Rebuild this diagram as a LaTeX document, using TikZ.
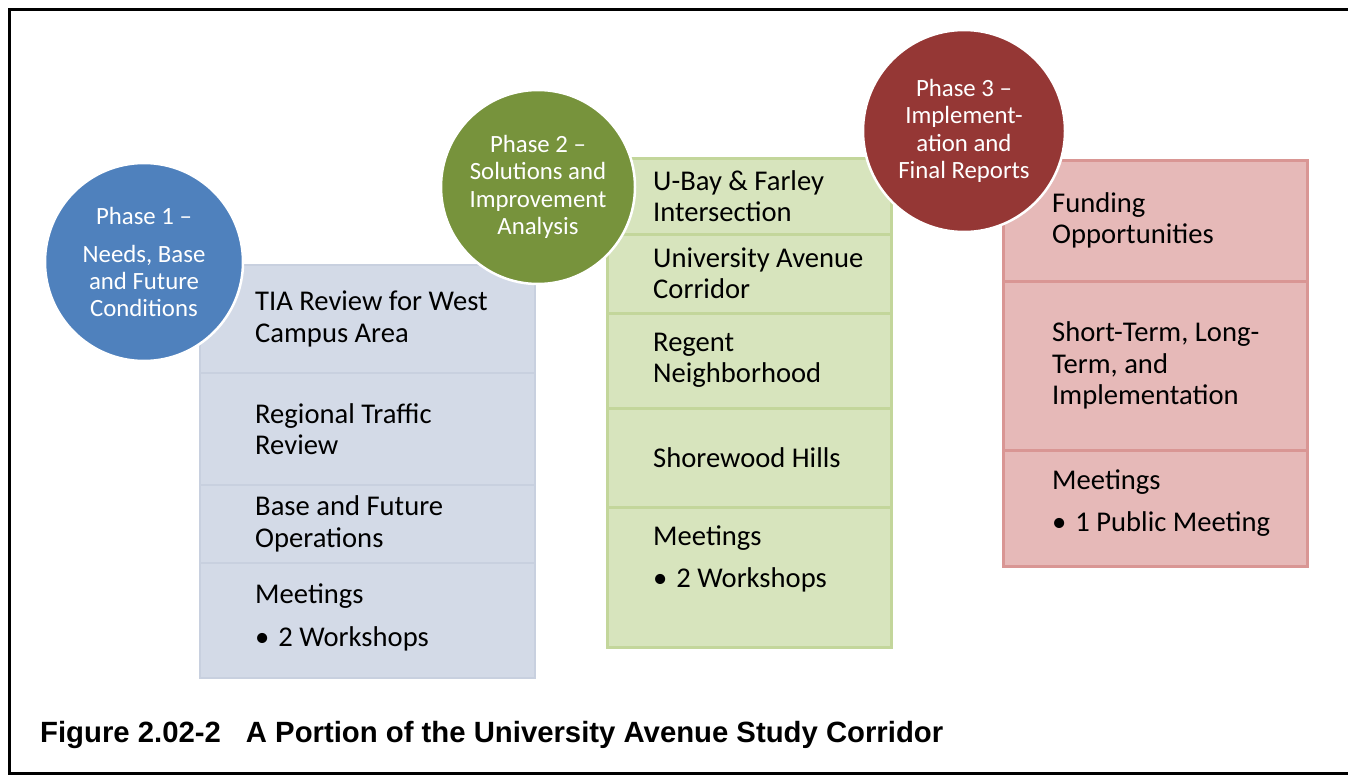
\documentclass[tikz,border=0pt]{standalone}
\usepackage{fontspec}
\setmainfont{Carlito}
\newfontfamily\capfont{Liberation Sans}
\usetikzlibrary{positioning}
\definecolor{oneblue}{HTML}{4F81BD}
\definecolor{twogreen}{HTML}{77933C}
\definecolor{threered}{HTML}{953735}
\definecolor{bluefill}{HTML}{D3DAE7}
\definecolor{blueline}{HTML}{C8D0DF}
\definecolor{greenfill}{HTML}{D7E4BD}
\definecolor{greenline}{HTML}{C3D69B}
\definecolor{redfill}{HTML}{E6B9B8}
\definecolor{redline}{HTML}{D99694}
\tikzset{
  phase/.style={circle, draw=white, line width=2.5pt, text=white, align=center, inner sep=0pt, minimum size=198pt, font=\fontsize{24.8}{27.3}\selectfont},
  colone/.style={rectangle, outer sep=0pt, minimum width=335pt, fill=bluefill, draw=blueline, line width=1.5pt},
  coltwo/.style={rectangle, outer sep=0pt, minimum width=284pt, fill=greenfill, draw=greenline, line width=3pt},
  colthree/.style={rectangle, outer sep=0pt, minimum width=304pt, fill=redfill, draw=redline, line width=3pt},
  item/.style={anchor=west, align=left, inner sep=0pt, font=\fontsize{28.6}{31.4}\selectfont},
  node distance=0pt
}
\begin{document}
\begin{tikzpicture}[x=1pt, y=-1pt]
	\useasboundingbox (0,0) rectangle (1348,776);
	\draw[line width=3pt] (9,10) rectangle (1370,773);
	% phase 1 column
	\node[colone, minimum height=108pt, anchor=north west] (tia) at (200,265) {};
	\node[colone, minimum height=112pt, below=of tia] (regional) {};
	\node[colone, minimum height=78pt, below=of regional] (baseops) {};
	\node[colone, minimum height=115pt, below=of baseops] (meetone) {};
	\node[item, right=55pt of tia.west] (tiatxt) {TIA Review for West\\Campus Area};
	\node[item, right=55pt of regional.west] (regionaltxt) {Regional Traffic\\Review};
	\node[item, right=55pt of baseops.west] (baseopstxt) {Base and Future\\Operations};
	\node[item, right=55pt of meetone.west, yshift=3pt] (meetonetxt) {Meetings\\[11pt]\textbullet\hspace{9pt}2 Workshops};
	% phase 2 column
	\node[coltwo, minimum height=76pt, anchor=north west] (ubay) at (607,158) {};
	\node[coltwo, minimum height=79pt, below=of ubay] (univ) {};
	\node[coltwo, minimum height=95pt, below=of univ] (regent) {};
	\node[coltwo, minimum height=99pt, below=of regent] (shore) {};
	\node[coltwo, minimum height=140pt, below=of shore] (meettwo) {};
	\node[item, right=46pt of ubay.west] (ubaytxt) {U-Bay \& Farley\\Intersection};
	\node[item, right=46pt of univ.west] (univtxt) {University Avenue\\Corridor};
	\node[item, right=46pt of regent.west] (regenttxt) {Regent\\Neighborhood};
	\node[item, right=46pt of shore.west] (shoretxt) {Shorewood Hills};
	\node[item, right=46pt of meettwo.west, yshift=18pt] (meettwotxt) {Meetings\\[11pt]\textbullet\hspace{9pt}2 Workshops};
	% phase 3 column
	\node[colthree, minimum height=121pt, anchor=north west] (funding) at (1003,160) {};
	\node[colthree, minimum height=169pt, below=of funding] (terms) {};
	\node[colthree, minimum height=116pt, below=of terms] (meetthree) {};
	\node[item, right=49pt of funding.west] (fundingtxt) {Funding\\Opportunities};
	\node[item, right=49pt of terms.west] (termstxt) {Short-Term, Long-\\Term, and\\Implementation};
	\node[item, right=49pt of meetthree.west, yshift=5pt] (meetthreetxt) {Meetings\\[11pt]\textbullet\hspace{9pt}1 Public Meeting};
	% phase circles on top
	\node[phase, fill=oneblue] (one) at (144,262) {Phase 1 –\\[11pt]Needs, Base\\and Future\\Conditions};
	\node[phase, fill=twogreen, minimum size=194pt] (two) at (538,187) {Phase 2 –\\Solutions and\\Improvement\\Analysis};
	\node[phase, fill=threered, minimum size=202pt] (three) at (964,131) {Phase 3 –\\Implement-\\ation and\\Final Reports};
	%
	\node[anchor=base west, inner sep=0pt, font=\capfont\bfseries\fontsize{29.3}{34}\selectfont] (caption) at (40,742) {Figure 2.02-2\hspace{25pt}A Portion of the University Avenue Study Corridor};
\end{tikzpicture}
\end{document}
